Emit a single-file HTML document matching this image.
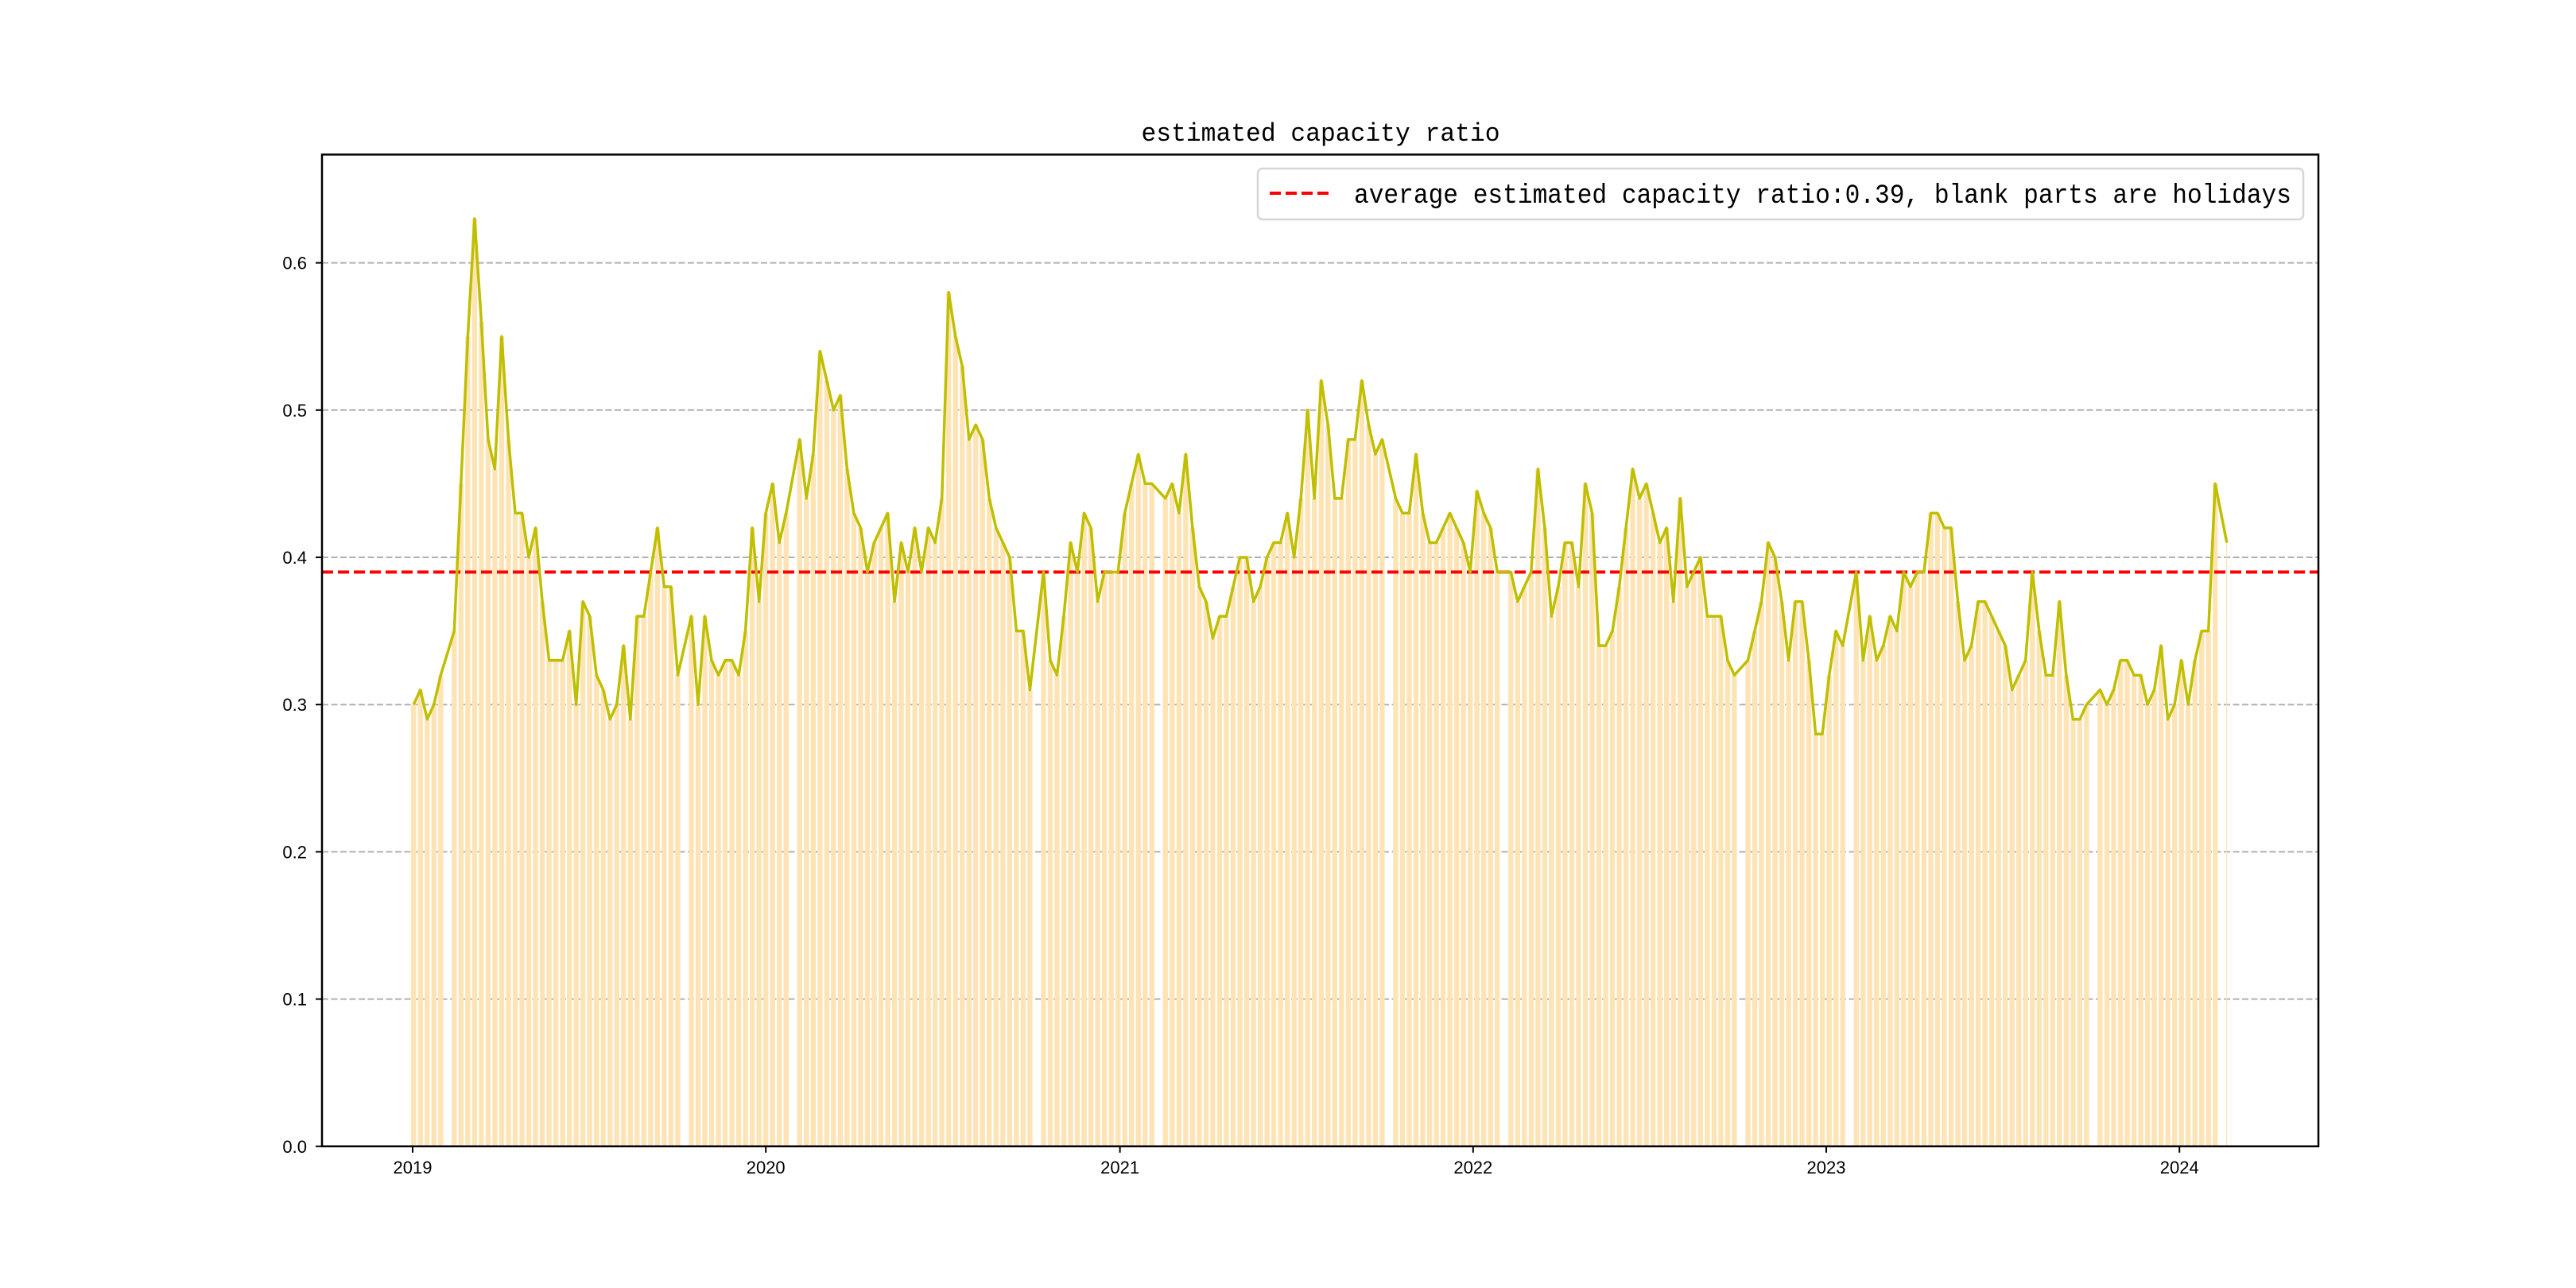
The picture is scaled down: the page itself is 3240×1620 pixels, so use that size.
<!DOCTYPE html>
<html>
<head>
<meta charset="utf-8">
<style>
html,body{margin:0;padding:0;background:#fff;}
svg{display:block;}
text{font-family:"Liberation Sans","Noto Sans CJK SC",sans-serif;fill:#000;}
.mono{font-family:"Liberation Mono","Noto Sans CJK SC",monospace;}
</style>
</head>
<body>
<svg id="chart" width="3240" height="1620" viewBox="0 0 3240 1620" xmlns="http://www.w3.org/2000/svg">
  <rect x="0" y="0" width="3240" height="1620" fill="#fff"/>
  <g id="grid"></g>
  <g id="bars"></g>
  <g id="avg"></g>
  <g id="line"></g>
  <rect x="405" y="194.4" width="2511" height="1247.4" fill="none" stroke="#000" stroke-width="2.5"/>
  <g id="yticks"></g>
  <g id="xticks"></g>
  <text x="1661" y="177" text-anchor="middle" font-size="32" class="mono" textLength="451" lengthAdjust="spacingAndGlyphs">estimated capacity ratio</text>
  <g>
    <rect x="1582" y="212" width="1315" height="64" rx="6" fill="#fff" fill-opacity="0.8" stroke="#d6d6d6" stroke-width="2.5"/>
    <line x1="1597" y1="243" x2="1672" y2="243" stroke="#ff0000" stroke-width="4" stroke-dasharray="14,6"/>
    <text x="1703" y="255" font-size="34" class="mono" textLength="1179" lengthAdjust="spacingAndGlyphs">average estimated capacity ratio:0.39, blank parts are holidays</text>
  </g>
</svg>
<script>
// weekly values (week 0 = week of 2018-12-31), null = holiday week
const weekValues = [
0.30,0.31,0.29,0.30,0.32,null,0.35,0.45,0.55,0.63,0.56,0.48,0.46,0.55,0.48,0.43,0.43,0.40,0.42,0.37,
0.33,0.33,0.33,0.35,0.30,0.37,0.36,0.32,0.31,0.29,0.30,0.34,0.29,0.36,0.36,0.39,0.42,0.38,0.38,0.32,
null,0.36,0.30,0.36,0.33,0.32,0.33,0.33,0.32,0.35,0.42,0.37,0.43,0.45,0.41,0.43,null,0.48,0.44,0.47,
0.54,0.52,0.50,0.51,0.46,0.43,0.42,0.39,0.41,0.42,0.43,0.37,0.41,0.39,0.42,0.39,0.42,0.41,0.44,0.58,
0.55,0.53,0.48,0.49,0.48,0.44,0.42,0.41,0.40,0.35,0.35,0.31,null,0.39,0.33,0.32,0.36,0.41,0.39,0.43,
0.42,0.37,0.39,0.39,0.39,0.43,0.45,0.47,0.45,0.45,null,0.44,0.45,0.43,0.47,0.42,0.38,0.37,0.345,0.36,
0.36,0.38,0.40,0.40,0.37,0.38,0.40,0.41,0.41,0.43,0.40,0.44,0.50,0.44,0.52,0.49,0.44,0.44,0.48,0.48,
0.52,0.49,0.47,0.48,null,0.44,0.43,0.43,0.47,0.43,0.41,0.41,0.42,0.43,0.42,0.41,0.39,0.445,0.43,0.42,
0.39,null,0.39,0.37,0.38,0.39,0.46,0.42,0.36,0.38,0.41,0.41,0.38,0.45,0.43,0.34,0.34,0.35,0.38,0.42,
0.46,0.44,0.45,0.43,0.41,0.42,0.37,0.44,0.38,0.39,0.40,0.36,0.36,0.36,0.33,0.32,null,0.33,0.35,0.37,
0.41,0.40,0.37,0.33,0.37,0.37,0.33,0.28,0.28,0.32,0.35,0.34,null,0.39,0.33,0.36,0.33,0.34,0.36,0.35,
0.39,0.38,0.39,0.39,0.43,0.43,0.42,0.42,0.37,0.33,0.34,0.37,0.37,0.36,0.35,0.34,0.31,0.32,0.33,0.39,
0.35,0.32,0.32,0.37,0.32,0.29,0.29,0.30,null,0.31,0.30,0.31,0.33,0.33,0.32,0.32,0.30,0.31,0.34,0.29,
0.30,0.33,0.30,0.33,0.35,0.35,0.45,null,0.41
];
const avgValue = 0.39;
const yTickLabels = ["0.0","0.1","0.2","0.3","0.4","0.5","0.6"];
const xTickLabels = ["2019","2020","2021","2022","2023","2024"];
const xTickDays = [1,366,732,1097,1462,1827]; // days since 2018-12-31 for Jan 1 of each year

const NS = "http://www.w3.org/2000/svg";
const L = 405, R = 2916, T = 194.4, B = 1441.8;
const pxPerDay = 444.2 / 365;
function xScale(d){ return 519 + (d - 1) * pxPerDay; }
function yScale(v){ return B - v * 1852; }
function mk(tag, attrs, parent){
  const e = document.createElementNS(NS, tag);
  for (const k in attrs) e.setAttribute(k, attrs[k]);
  parent.appendChild(e);
  return e;
}

// grid + y ticks
const grid = document.getElementById('grid');
const yt = document.getElementById('yticks');
yTickLabels.forEach(function(lab){
  const v = parseFloat(lab);
  const y = yScale(v);
  if (v > 0) {
    const g = mk('line', {x1:L, x2:R, y1:y, y2:y, stroke:'#b0b0b0', 'stroke-width':2, 'stroke-dasharray':'8,3.5'}, grid);
    
    
  }
  const tk = mk('line', {x1:L-8, x2:L, y1:y, y2:y, stroke:'#000', 'stroke-width':2}, yt);
  
  
  const t = mk('text', {x:L-19, y:y+8, 'text-anchor':'end', 'font-size':22}, yt);
  t.textContent = lab;
  
  
});

// x ticks
const xt = document.getElementById('xticks');
xTickLabels.forEach(function(lab, i){
  const x = xScale(xTickDays[i]);
  const tk = mk('line', {x1:x, x2:x, y1:B, y2:B+8, stroke:'#000', 'stroke-width':2}, xt);
  
  
  const t = mk('text', {x:x, y:1476, 'text-anchor':'middle', 'font-size':22}, xt);
  t.textContent = lab;
  
  
});

// bars (one block per trading week)
const bars = document.getElementById('bars');
weekValues.forEach(function(v, n){
  if (v === null) return;
  const last = (n === weekValues.length - 1);
  const d0 = 7 * n - 0.6;
  const d1 = last ? 7 * n + 0.4 : 7 * n + 4.6;
  const x0 = xScale(d0), x1 = xScale(d1);
  const r = mk('rect', {x:x0, y:yScale(v), width:Math.max(1, x1 - x0), height:B - yScale(v), fill:'#fee3b5'}, bars);
  
  
});

// average line
const avg = document.getElementById('avg');
const al = mk('line', {x1:L, x2:R, y1:yScale(avgValue), y2:yScale(avgValue), stroke:'#ff0000', 'stroke-width':4, 'stroke-dasharray':'14,6'}, avg);



// capacity line
const pts = [];
weekValues.forEach(function(v, n){
  if (v === null) return;
  const last = (n === weekValues.length - 1);
  pts.push(xScale(last ? 7 * n : 7 * n + 2).toFixed(1) + ',' + yScale(v).toFixed(1));
});
const pl = mk('polyline', {points:pts.join(' '), fill:'none', stroke:'#bfbf00', 'stroke-width':3.5, 'stroke-linejoin':'round'}, document.getElementById('line'));


</script>
</body>
</html>
